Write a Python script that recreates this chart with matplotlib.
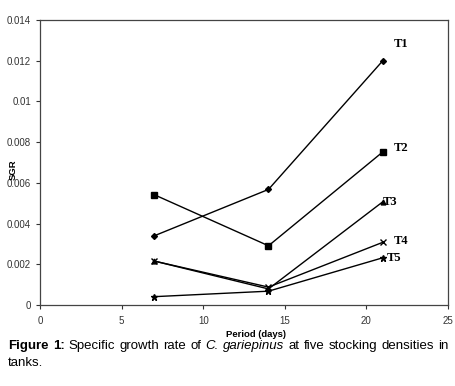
import matplotlib
matplotlib.use("Agg")
import matplotlib.pyplot as plt

days = [7, 14, 21]
series_names = ["T1", "T2", "T3", "T4", "T5"]
t1 = [0.0034, 0.00568, 0.0120]
t2 = [0.00542, 0.00291, 0.00752]
t3 = [0.00216, 0.00079, 0.00507]
t4 = [0.00216, 0.00088, 0.00308]
t5 = [0.00041, 0.00068, 0.00232]
x_ticks = [0, 5, 10, 15, 20, 25]
y_ticks = [0, 0.002, 0.004, 0.006, 0.008, 0.01, 0.012, 0.014]
y_tick_labels = ["0", "0.002", "0.004", "0.006", "0.008", "0.01", "0.012", "0.014"]

markers = ["D", "s", "^", "x", "*"]
marker_sizes = [3, 4.5, 3.5, 4, 5]
label_offsets = [(8, 12), (8, 3), (0, 0), (8, 1), (3, 0)]

fig = plt.figure(figsize=(4.56, 3.86), dpi=100)
ax = fig.add_axes([0.0877, 0.2098, 0.8948, 0.7382])

for name, vals, m, ms, off in zip(series_names, [t1, t2, t3, t4, t5],
                                  markers, marker_sizes, label_offsets):
    ax.plot(days, vals, color="black", linewidth=1, marker=m, markersize=ms,
            markeredgewidth=1)
    ax.annotate(name, (days[-1], vals[-1]), xytext=off, textcoords="offset points",
                ha="left", va="center", fontsize=9, fontweight="bold",
                family="Liberation Serif")

ax.set_xlim(0, 25)
ax.set_ylim(0, 0.014)
ax.set_xticks(x_ticks)
ax.set_xticklabels([str(t) for t in x_ticks])
ax.set_yticks(y_ticks)
ax.set_yticklabels(y_tick_labels)
ax.tick_params(labelsize=7, length=3, width=0.8, colors="#333333")
ax.tick_params(axis="x", pad=5)
for lab in ax.get_xticklabels() + ax.get_yticklabels():
    lab.set_family("Liberation Sans")
for sp in ax.spines.values():
    sp.set_color("#444444")
    sp.set_linewidth(0.9)

ax.set_xlabel("Period (days)", fontsize=6.8, fontweight="bold",
              family="Liberation Sans")
ax.xaxis.set_label_coords(0.53, -0.088)
ax.set_ylabel("SGR", fontsize=6.8, fontweight="bold", family="Liberation Sans")
ax.yaxis.set_label_coords(-0.054, 0.474)

# caption, line 1 justified across the figure width
words = [("Figure", "bold", "normal"), ("1:", "bold", "normal"),
         ("Specific", "normal", "normal"), ("growth", "normal", "normal"),
         ("rate", "normal", "normal"), ("of", "normal", "normal"),
         ("C.", "normal", "italic"), ("gariepinus", "normal", "italic"),
         ("at", "normal", "normal"), ("five", "normal", "normal"),
         ("stocking", "normal", "normal"), ("densities", "normal", "normal"),
         ("in", "normal", "normal")]
x0, x1 = 8 / 456, 449 / 456
y1 = 1 - 346 / 386
renderer = fig.canvas.get_renderer()
texts = []
widths = []
for w, wt, st in words:
    t = fig.text(0, y1, w, fontsize=9.5, fontweight=wt, style=st,
                 family="Liberation Sans", va="center", ha="left")
    texts.append(t)
    widths.append(t.get_window_extent(renderer).width / fig.bbox.width)
gap = (x1 - x0 - sum(widths)) / (len(words) - 1)
x = x0
for t, w in zip(texts, widths):
    t.set_x(x)
    x += w + gap
fig.text(x0, 1 - 363 / 386, "tanks.", fontsize=9.5, family="Liberation Sans",
         va="center", ha="left")

fig.savefig("out.png", dpi=100)
